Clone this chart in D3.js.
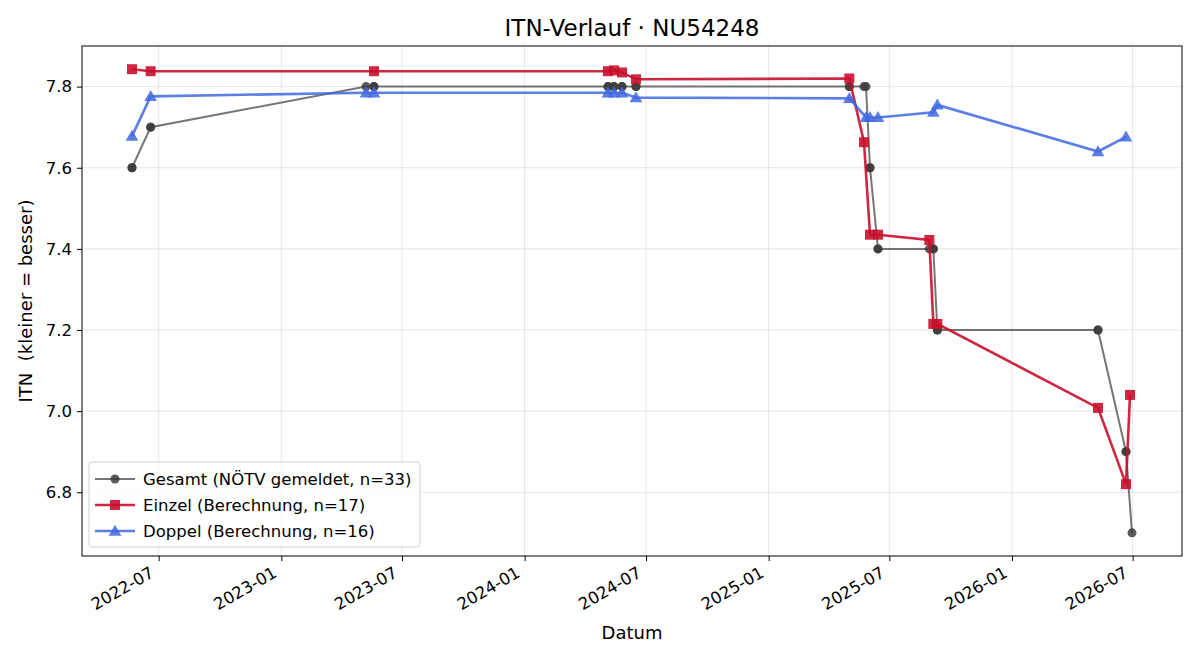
<!DOCTYPE html>
<html>
<head>
<meta charset="utf-8">
<script src="https://cdn.jsdelivr.net/npm/d3@7"></script>
<style>
  body { margin: 0; background: #fff; }
  svg text { font-family: "DejaVu Sans", sans-serif; white-space: pre; }
</style>
</head>
<body>
<div id="chart"></div>
<script>
// ---------- data ----------
var gesamtDates = ["2022-05-22","2022-05-22","2022-06-19","2022-06-19","2023-05-08","2023-05-20","2023-05-20",
  "2024-05-05","2024-05-05","2024-05-14","2024-05-14","2024-05-26","2024-05-26","2024-06-16","2024-06-16",
  "2025-05-02","2025-05-02","2025-05-24","2025-05-27","2025-06-02","2025-06-02","2025-06-14","2025-06-14",
  "2025-08-30","2025-09-05","2025-09-05","2025-09-11","2025-09-11","2026-05-10","2026-05-10",
  "2026-06-21","2026-06-21","2026-06-30"];
var gesamtValues = [7.6,7.6,7.7,7.7,7.8,7.8,7.8,
  7.8,7.8,7.8,7.8,7.8,7.8,7.8,7.8,
  7.8,7.8,7.8,7.8,7.6,7.6,7.4,7.4,
  7.4,7.4,7.4,7.2,7.2,7.2,7.2,
  6.9,6.9,6.7];

var einzelDates = ["2022-05-22","2022-06-19","2023-05-20","2024-05-05","2024-05-14","2024-05-26","2024-06-16",
  "2025-05-02","2025-05-24","2025-06-02","2025-06-14","2025-08-30","2025-09-05","2025-09-11",
  "2026-05-10","2026-06-21","2026-06-27"];
var einzelValues = [7.843,7.838,7.838,7.838,7.840,7.835,7.818,
  7.820,7.663,7.435,7.435,7.422,7.215,7.215,
  7.008,6.820,7.040];

var doppelDates = ["2022-05-22","2022-06-19","2023-05-08","2023-05-20","2024-05-05","2024-05-14","2024-05-26","2024-06-16",
  "2025-05-02","2025-05-27","2025-06-02","2025-06-14","2025-09-05","2025-09-11","2026-05-10","2026-06-21"];
var doppelValues = [7.678,7.776,7.785,7.785,7.785,7.785,7.785,7.773,
  7.771,7.724,7.724,7.724,7.737,7.755,7.640,7.676];

var xTicks = ["2022-07","2023-01","2023-07","2024-01","2024-07","2025-01","2025-07","2026-01","2026-07"];
var yTicks = [6.8, 7.0, 7.2, 7.4, 7.6, 7.8];

var seriesNames = ["Gesamt (NÖTV gemeldet, n=33)","Einzel (Berechnung, n=17)","Doppel (Berechnung, n=16)"];

// ---------- layout ----------
var W = 1200, H = 660;
var margin = {top: 46, right: 18, bottom: 104, left: 82};
var width = W - margin.left - margin.right,
    height = H - margin.top - margin.bottom;

var parse = d3.timeParse("%Y-%m-%d"), parseM = d3.timeParse("%Y-%m");

function toPoints(dates, vals) {
  return dates.map(function (d, i) { return {date: parse(d), v: vals[i]}; });
}
var gesamt = toPoints(gesamtDates, gesamtValues),
    einzel = toPoints(einzelDates, einzelValues),
    doppel = toPoints(doppelDates, doppelValues);

// matplotlib-like 5% margins
var all = gesamt.concat(einzel, doppel);
var xExt = d3.extent(all, function (d) { return d.date; }),
    yExt = d3.extent(all, function (d) { return d.v; });
var xPad = (xExt[1] - xExt[0]) * 0.05, yPad = (yExt[1] - yExt[0]) * 0.05;

var x = d3.scaleTime()
  .domain([new Date(+xExt[0] - xPad), new Date(+xExt[1] + xPad)])
  .range([0, width]);
var y = d3.scaleLinear()
  .domain([yExt[0] - yPad, yExt[1] + yPad])
  .range([height, 0]);

var svg = d3.select("#chart").append("svg")
  .attr("width", W).attr("height", H);

svg.append("text")
  .attr("x", margin.left + width / 2).attr("y", 36)
  .attr("text-anchor", "middle")
  .style("font-size", "23px")
  .text("ITN-Verlauf · NU54248");

var g = svg.append("g")
  .attr("transform", "translate(" + margin.left + "," + margin.top + ")");

// grid
var tickDates = xTicks.map(function (t) { return parseM(t); });
g.append("g").selectAll("line").data(tickDates).enter().append("line")
  .attr("x1", function (d) { return x(d); }).attr("x2", function (d) { return x(d); })
  .attr("y1", 0).attr("y2", height)
  .attr("stroke", "#b0b0b0").attr("stroke-opacity", 0.3).attr("stroke-width", 1);
g.append("g").selectAll("line").data(yTicks).enter().append("line")
  .attr("x1", 0).attr("x2", width)
  .attr("y1", function (d) { return y(d); }).attr("y2", function (d) { return y(d); })
  .attr("stroke", "#b0b0b0").attr("stroke-opacity", 0.3).attr("stroke-width", 1);

// axes
var xAxis = d3.axisBottom(x).tickValues(tickDates).tickFormat(d3.timeFormat("%Y-%m"))
  .tickSizeOuter(0).tickSize(5).tickPadding(3);
var yAxis = d3.axisLeft(y).tickValues(yTicks).tickFormat(d3.format(".1f"))
  .tickSizeOuter(0).tickSize(5).tickPadding(5);

var xAxisEl = g.append("g").attr("transform", "translate(0," + height + ")").call(xAxis);
xAxisEl.selectAll("text")
  .style("font-size", "16.5px").attr("fill", "#000")
  .attr("text-anchor", "end")
  .attr("y", 0).attr("dy", 0)
  .attr("transform", "translate(-4,20) rotate(-30)");
var yAxisEl = g.append("g").call(yAxis);
yAxisEl.selectAll("text").style("font-size", "16.5px").attr("fill", "#000");
[xAxisEl, yAxisEl].forEach(function (a) {
  a.select(".domain").remove();
  a.selectAll(".tick line").attr("stroke", "#000").attr("stroke-width", 1);
});

// frame
g.append("rect").attr("width", width).attr("height", height)
  .attr("fill", "none").attr("stroke", "#000").attr("stroke-width", 1);

svg.append("text")
  .attr("x", margin.left + width / 2).attr("y", 639)
  .attr("text-anchor", "middle").style("font-size", "18px")
  .text("Datum");
svg.append("text")
  .attr("transform", "translate(32," + (margin.top + height / 2) + ") rotate(-90)")
  .attr("text-anchor", "middle").style("font-size", "18px")
  .text("ITN  (kleiner = besser)");

// series
var line = d3.line().x(function (d) { return x(d.date); }).y(function (d) { return y(d.v); });

var colGes = "#3c3c3c", colEin = "#c8102e", colDop = "#4169e1";

g.append("path").datum(gesamt).attr("d", line)
  .attr("fill", "none").attr("stroke", colGes).attr("stroke-opacity", 0.7).attr("stroke-width", 2);
g.append("g").selectAll("circle").data(gesamt).enter().append("circle")
  .attr("cx", function (d) { return x(d.date); }).attr("cy", function (d) { return y(d.v); })
  .attr("r", 4.5).attr("fill", colGes).attr("fill-opacity", 0.85);

g.append("path").datum(einzel).attr("d", line)
  .attr("fill", "none").attr("stroke", colEin).attr("stroke-opacity", 0.9).attr("stroke-width", 2.6);
g.append("g").selectAll("rect").data(einzel).enter().append("rect")
  .attr("x", function (d) { return x(d.date) - 5; }).attr("y", function (d) { return y(d.v) - 5; })
  .attr("width", 10).attr("height", 10)
  .attr("fill", colEin).attr("fill-opacity", 0.9);

var tri = d3.symbol().type(d3.symbolTriangle).size(70);
g.append("path").datum(doppel).attr("d", line)
  .attr("fill", "none").attr("stroke", colDop).attr("stroke-opacity", 0.85).attr("stroke-width", 2.6);
g.append("g").selectAll("path").data(doppel).enter().append("path")
  .attr("d", tri)
  .attr("transform", function (d) { return "translate(" + x(d.date) + "," + (y(d.v) + 1) + ")"; })
  .attr("fill", colDop).attr("fill-opacity", 0.85);

// legend
var leg = g.append("g").attr("transform", "translate(7,416)");
leg.append("rect").attr("width", 331).attr("height", 85).attr("rx", 3)
  .attr("fill", "#fff").attr("fill-opacity", 0.8)
  .attr("stroke", "#d0d0d0");
var legItems = [
  {name: seriesNames[0], col: colGes, mk: "circle", sw: 2, op: 0.7},
  {name: seriesNames[1], col: colEin, mk: "square", sw: 2.6, op: 0.9},
  {name: seriesNames[2], col: colDop, mk: "triangle", sw: 2.6, op: 0.85}
];
legItems.forEach(function (it, i) {
  var yy = 17 + i * 26;
  var row = leg.append("g").attr("transform", "translate(0," + yy + ")");
  row.append("line").attr("x1", 6).attr("x2", 46).attr("y1", 0).attr("y2", 0)
    .attr("stroke", it.col).attr("stroke-opacity", it.op).attr("stroke-width", it.sw);
  if (it.mk === "circle") {
    row.append("circle").attr("cx", 26).attr("cy", 0).attr("r", 4.5).attr("fill", it.col).attr("fill-opacity", 0.85);
  } else if (it.mk === "square") {
    row.append("rect").attr("x", 21).attr("y", -5).attr("width", 10).attr("height", 10).attr("fill", it.col).attr("fill-opacity", 0.9);
  } else {
    row.append("path").attr("d", tri).attr("transform", "translate(26,1)").attr("fill", it.col).attr("fill-opacity", 0.85);
  }
  row.append("text").attr("x", 54).attr("y", 0).attr("dy", "0.35em")
    .style("font-size", "16.5px").text(it.name);
});
</script>
</body>
</html>
